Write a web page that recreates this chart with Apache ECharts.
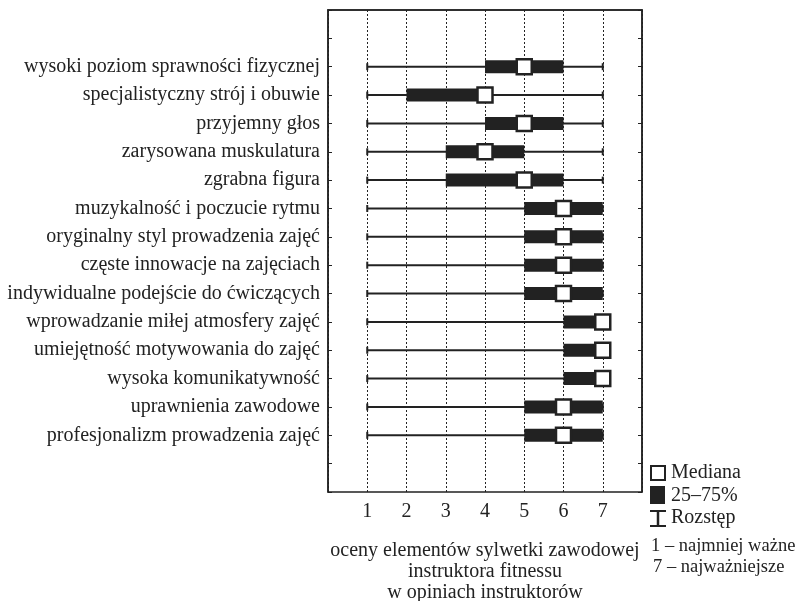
<!DOCTYPE html>
<html><head><meta charset="utf-8">
<script src="https://cdn.jsdelivr.net/npm/echarts@6/dist/echarts.min.js"></script>
<style>html,body{margin:0;padding:0;background:#fff}#c{width:797px;height:601px}</style>
</head><body><div id="c"></div>
<script>
var categories = [
  'wysoki poziom sprawności fizycznej',
  'specjalistyczny strój i obuwie',
  'przyjemny głos',
  'zarysowana muskulatura',
  'zgrabna figura',
  'muzykalność i poczucie rytmu',
  'oryginalny styl prowadzenia zajęć',
  'częste innowacje na zajęciach',
  'indywidualne podejście do ćwiczących',
  'wprowadzanie miłej atmosfery zajęć',
  'umiejętność motywowania do zajęć',
  'wysoka komunikatywność',
  'uprawnienia zawodowe',
  'profesjonalizm prowadzenia zajęć'
];
var minValues    = [1,1,1,1,1,1,1,1,1,1,1,1,1,1];
var q1Values     = [4,2,4,3,3,5,5,5,5,6,6,6,5,5];
var medianValues = [5,4,5,4,5,6,6,6,6,7,7,7,6,6];
var q3Values     = [6,4,6,5,6,7,7,7,7,7,7,7,7,7];
var maxValues    = [7,7,7,7,7,7,7,7,7,7,7,7,7,7];
var xTickLabels  = ['1','2','3','4','5','6','7'];
var rowOffset = 2; // first row sits one empty slot below the top

var FONT = 'Liberation Serif';
var INK = '#222';

var data = categories.map(function(c, i){
  return [i + rowOffset, minValues[i], q1Values[i], medianValues[i], q3Values[i], maxValues[i]];
});

var chart = echarts.init(document.getElementById('c'));
chart.setOption({
  animation: false,
  backgroundColor: '#fff',
  grid: {left: 328, top: 10, right: 155, bottom: 109, show: true, borderColor: INK, borderWidth: 1.5,
         containLabel: false, outerBoundsMode: 'none'},
  xAxis: {
    type: 'value', min: 0, max: 8, interval: 1,
    axisLine: {show: true, lineStyle: {color: INK, width: 1.5}},
    axisTick: {show: false},
    splitLine: {show: true, lineStyle: {color: INK, type: [2, 2], width: 1}},
    axisLabel: {color: INK, fontFamily: FONT, fontSize: 20, margin: 10,
      formatter: function(v){ return (v >= 1 && v <= xTickLabels.length) ? xTickLabels[v-1] : ''; }},
    name: 'oceny elementów sylwetki zawodowej\ninstruktora fitnessu\nw opiniach instruktorów',
    nameLocation: 'middle', nameGap: 48,
    nameTextStyle: {color: INK, fontFamily: FONT, fontSize: 20, lineHeight: 21, verticalAlign: 'top'}
  },
  yAxis: [{
    type: 'value', min: 0, max: categories.length + 3, interval: 1, inverse: true,
    axisLine: {show: true, lineStyle: {color: INK, width: 1.5}},
    axisTick: {show: true, inside: true, length: 4, lineStyle: {color: INK}},
    splitLine: {show: false},
    axisLabel: {color: INK, fontFamily: FONT, fontSize: 20, margin: 8,
      formatter: function(v){ var i = v - rowOffset; return (i >= 0 && i < categories.length) ? categories[i] : ''; }}
  }, {
    type: 'value', position: 'right', min: 0, max: categories.length + 3, interval: 1, inverse: true,
    axisLine: {show: true, lineStyle: {color: INK, width: 1.5}},
    axisTick: {show: true, inside: true, length: 4, lineStyle: {color: INK}},
    splitLine: {show: false},
    axisLabel: {show: false}
  }],
  series: [{
    type: 'custom',
    data: data,
    encode: {x: [1,2,3,4,5], y: 0},
    renderItem: function(params, api){
      var y = api.value(0);
      var pMin = api.coord([api.value(1), y]);
      var pQ1 = api.coord([api.value(2), y]);
      var pMed = api.coord([api.value(3), y]);
      var pQ3 = api.coord([api.value(4), y]);
      var pMax = api.coord([api.value(5), y]);
      var bh = 13, cap = 3.5, ms = 15;
      return {type: 'group', children: [
        {type: 'line', shape: {x1: pMin[0], y1: pMin[1], x2: pMax[0], y2: pMax[1]}, style: {stroke: INK, lineWidth: 2}},
        {type: 'line', shape: {x1: pMin[0], y1: pMin[1]-cap, x2: pMin[0], y2: pMin[1]+cap}, style: {stroke: INK, lineWidth: 2}},
        {type: 'line', shape: {x1: pMax[0], y1: pMax[1]-cap, x2: pMax[0], y2: pMax[1]+cap}, style: {stroke: INK, lineWidth: 2}},
        {type: 'rect', shape: {x: pQ1[0], y: pQ1[1]-bh/2, width: pQ3[0]-pQ1[0], height: bh}, style: {fill: INK}},
        {type: 'rect', shape: {x: pMed[0]-ms/2, y: pMed[1]-ms/2, width: ms, height: ms}, style: {fill: '#fff', stroke: INK, lineWidth: 2.5}}
      ]};
    }
  }],
  graphic: [
    {type: 'rect', shape: {x: 651, y: 466, width: 14, height: 14}, style: {fill: '#fff', stroke: INK, lineWidth: 2}},
    {type: 'text', x: 671, y: 473, style: {text: 'Mediana', fill: INK, font: '20px "Liberation Serif"', verticalAlign: 'middle'}},
    {type: 'rect', shape: {x: 650, y: 486, width: 15, height: 18}, style: {fill: INK}},
    {type: 'text', x: 671, y: 496, style: {text: '25–75%', fill: INK, font: '20px "Liberation Serif"', verticalAlign: 'middle'}},
    {type: 'line', shape: {x1: 650, y1: 511, x2: 666, y2: 511}, style: {stroke: INK, lineWidth: 2}},
    {type: 'line', shape: {x1: 658, y1: 511, x2: 658, y2: 526}, style: {stroke: INK, lineWidth: 2.5}},
    {type: 'line', shape: {x1: 650, y1: 526, x2: 666, y2: 526}, style: {stroke: INK, lineWidth: 2}},
    {type: 'text', x: 671, y: 518, style: {text: 'Rozstęp', fill: INK, font: '20px "Liberation Serif"', verticalAlign: 'middle'}},
    {type: 'text', x: 651, y: 546, style: {text: '1 – najmniej ważne', fill: INK, font: '18.5px "Liberation Serif"', verticalAlign: 'middle'}},
    {type: 'text', x: 653, y: 567, style: {text: '7 – najważniejsze', fill: INK, font: '18.5px "Liberation Serif"', verticalAlign: 'middle'}}
  ]
});
</script>
</body></html>
